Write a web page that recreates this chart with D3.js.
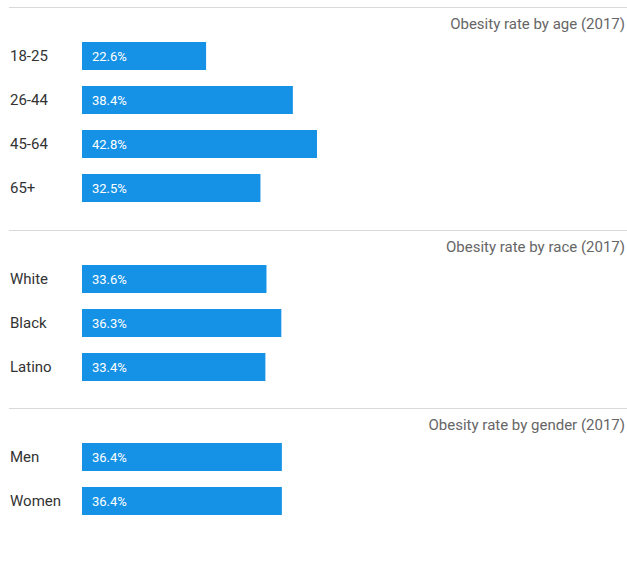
<!DOCTYPE html>
<html>
<head>
<meta charset="utf-8">
<script src="https://cdn.jsdelivr.net/npm/d3@7"></script>
<style>
  body { margin: 0; background: #fff; }
  text { font-family: Roboto, "Noto Sans", sans-serif; }
</style>
</head>
<body>
<div id="chart"></div>
<script>
var svgWidth = 627;
var svgHeight = 571;

// Data
var ageLabels = ["18-25", "26-44", "45-64", "65+"];
var ageValues = [22.6, 38.4, 42.8, 32.5];
var raceLabels = ["White", "Black", "Latino"];
var raceValues = [33.6, 36.3, 33.4];
var genderLabels = ["Men", "Women"];
var genderValues = [36.4, 36.4];
var panelTitles = ["Obesity rate by age (2017)", "Obesity rate by race (2017)", "Obesity rate by gender (2017)"];

var panels = [
  { title: panelTitles[0], labels: ageLabels, values: ageValues, top: 7 },
  { title: panelTitles[1], labels: raceLabels, values: raceValues, top: 230 },
  { title: panelTitles[2], labels: genderLabels, values: genderValues, top: 408 }
];

var barLeft = 82;
var step = 44;
var barHeight = 28;

var svg = d3.select("#chart")
  .append("svg")
  .attr("width", svgWidth)
  .attr("height", svgHeight);

// shared x scale
var xScale = d3.scaleLinear()
  .domain([0, 42.8])
  .range([0, 235]);

panels.forEach(function(p) {
  var g = svg.append("g")
    .attr("transform", `translate(0, ${p.top})`);

  // separator line
  g.append("line")
    .attr("x1", 9)
    .attr("x2", svgWidth)
    .attr("y1", 0.5)
    .attr("y2", 0.5)
    .attr("stroke", "#d9d9d9")
    .attr("stroke-width", 1);

  // title
  g.append("text")
    .attr("x", 625)
    .attr("y", 22)
    .attr("text-anchor", "end")
    .attr("font-size", "15px")
    .attr("fill", "#666")
    .text(p.title);

  var yScale = d3.scaleBand()
    .domain(p.labels)
    .range([35 - (step - barHeight) / 2, 35 - (step - barHeight) / 2 + step * p.labels.length])
    .paddingInner((step - barHeight) / step)
    .paddingOuter((step - barHeight) / step / 2);

  var data = p.labels.map(function(l, i) { return { label: l, value: p.values[i] }; });

  g.selectAll("rect")
    .data(data)
    .enter()
    .append("rect")
    .attr("x", barLeft)
    .attr("y", d => yScale(d.label))
    .attr("width", d => xScale(d.value))
    .attr("height", yScale.bandwidth())
    .attr("fill", "#1592e6");

  g.selectAll(".cat")
    .data(data)
    .enter()
    .append("text")
    .attr("class", "cat")
    .attr("x", 10)
    .attr("y", d => yScale(d.label) + yScale.bandwidth() / 2)
    .attr("dy", "0.35em")
    .attr("font-size", "15px")
    .attr("fill", "#333")
    .text(d => d.label);

  g.selectAll(".val")
    .data(data)
    .enter()
    .append("text")
    .attr("class", "val")
    .attr("x", barLeft + 10)
    .attr("y", d => yScale(d.label) + yScale.bandwidth() / 2)
    .attr("dy", "0.35em")
    .attr("font-size", "13px")
    .attr("fill", "#fff")
    .text(d => d.value.toFixed(1) + "%");
});
</script>
</body>
</html>
